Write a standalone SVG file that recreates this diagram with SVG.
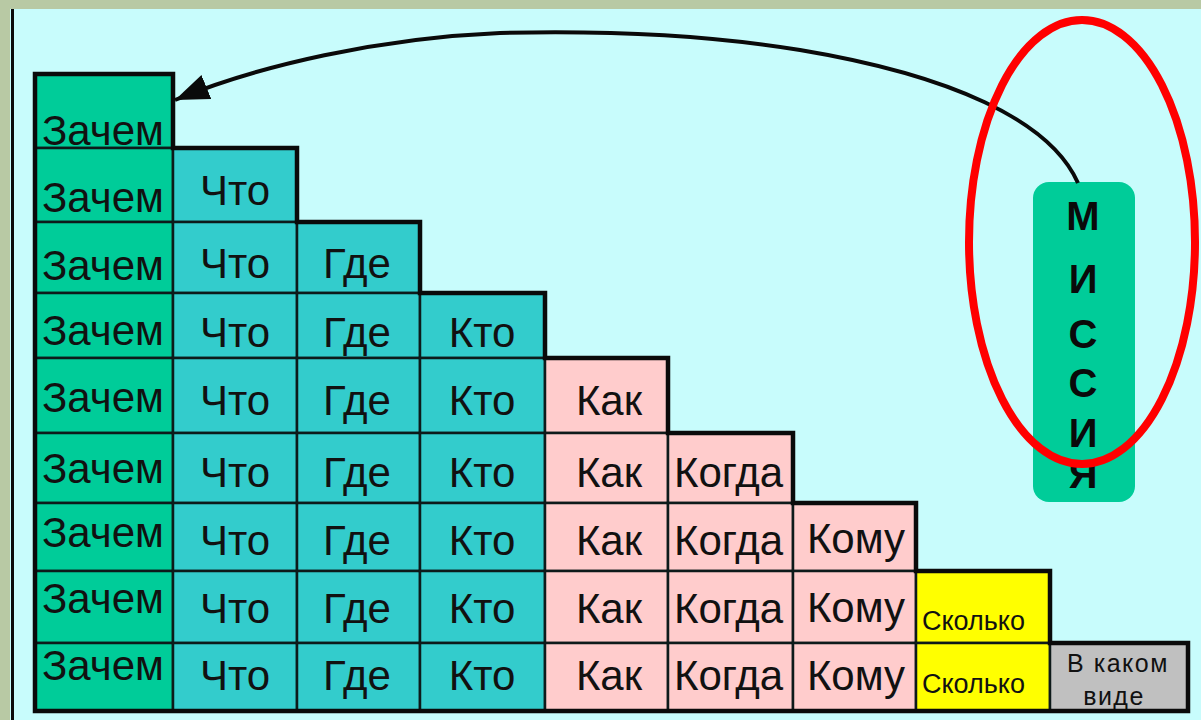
<svg xmlns="http://www.w3.org/2000/svg" width="1201" height="720" viewBox="0 0 1201 720">
<style>
.c1{fill:#00cc99}
.c2{fill:#33cccc}
.c3{fill:#ffcccc}
.c4{fill:#ffff00}
.c5{fill:#c0c0c0}
.cell rect{stroke:#0d1a1a;stroke-width:2.5}
.t{font-family:"Liberation Sans",Arial,sans-serif;font-size:42px;fill:#111}
.tm{text-anchor:middle}
.ts{font-family:"Liberation Sans",Arial,sans-serif;font-size:27px;fill:#111}
.tg{font-family:"Liberation Sans",Arial,sans-serif;font-size:25px;fill:#111;letter-spacing:1.5px;text-anchor:middle}
.m{font-family:"Liberation Sans",Arial,sans-serif;font-size:40px;font-weight:bold;fill:#0a0a0a;text-anchor:middle}
</style>
<defs>
<marker id="ah" markerUnits="userSpaceOnUse" markerWidth="34" markerHeight="26" refX="34" refY="13" orient="auto">
<path d="M0,0 L34,13 L0,26 Z" fill="#0a0a0a"/>
</marker>
</defs>
<rect x="0" y="0" width="1201" height="720" fill="#c8fcfc"/>
<rect x="0" y="0" width="1201" height="9" fill="#b8c9a4"/>
<rect x="0" y="0" width="10" height="720" fill="#b8c9a4"/>
<rect x="11" y="9" width="3" height="711" fill="#0a0a0a"/>

<g id="col1">
<g id="n1-0" class="cell"><rect class="c1" x="35" y="74" width="138" height="74"/><text class="t" x="42" y="145" text-decoration="underline">Зачем</text></g>
<g id="n1-1" class="cell"><rect class="c1" x="35" y="148" width="138" height="74"/><text class="t" x="42" y="212">Зачем</text></g>
<g id="n1-2" class="cell"><rect class="c1" x="35" y="222" width="138" height="71"/><text class="t" x="42" y="280">Зачем</text></g>
<g id="n1-3" class="cell"><rect class="c1" x="35" y="293" width="138" height="65"/><text class="t" x="42" y="345">Зачем</text></g>
<g id="n1-4" class="cell"><rect class="c1" x="35" y="358" width="138" height="75"/><text class="t" x="42" y="412">Зачем</text></g>
<g id="n1-5" class="cell"><rect class="c1" x="35" y="433" width="138" height="70"/><text class="t" x="42" y="483">Зачем</text></g>
<g id="n1-6" class="cell"><rect class="c1" x="35" y="503" width="138" height="68"/><text class="t" x="42" y="547">Зачем</text></g>
<g id="n1-7" class="cell"><rect class="c1" x="35" y="571" width="138" height="72"/><text class="t" x="42" y="613">Зачем</text></g>
<g id="n1-8" class="cell"><rect class="c1" x="35" y="643" width="138" height="68"/><text class="t" x="42" y="680">Зачем</text></g>
</g>

<g id="col2">
<g id="n2-1" class="cell"><rect class="c2" x="173" y="148" width="124" height="74"/><text class="t tm" x="235" y="205">Что</text></g>
<g id="n2-2" class="cell"><rect class="c2" x="173" y="222" width="124" height="71"/><text class="t tm" x="235" y="278">Что</text></g>
<g id="n2-3" class="cell"><rect class="c2" x="173" y="293" width="124" height="65"/><text class="t tm" x="235" y="347">Что</text></g>
<g id="n2-4" class="cell"><rect class="c2" x="173" y="358" width="124" height="75"/><text class="t tm" x="235" y="415">Что</text></g>
<g id="n2-5" class="cell"><rect class="c2" x="173" y="433" width="124" height="70"/><text class="t tm" x="235" y="487">Что</text></g>
<g id="n2-6" class="cell"><rect class="c2" x="173" y="503" width="124" height="68"/><text class="t tm" x="235" y="555">Что</text></g>
<g id="n2-7" class="cell"><rect class="c2" x="173" y="571" width="124" height="72"/><text class="t tm" x="235" y="623">Что</text></g>
<g id="n2-8" class="cell"><rect class="c2" x="173" y="643" width="124" height="68"/><text class="t tm" x="235" y="690">Что</text></g>
</g>

<g id="col3">
<g id="n3-2" class="cell"><rect class="c2" x="297" y="222" width="123" height="71"/><text class="t tm" x="357" y="278">Где</text></g>
<g id="n3-3" class="cell"><rect class="c2" x="297" y="293" width="123" height="65"/><text class="t tm" x="357" y="347">Где</text></g>
<g id="n3-4" class="cell"><rect class="c2" x="297" y="358" width="123" height="75"/><text class="t tm" x="357" y="415">Где</text></g>
<g id="n3-5" class="cell"><rect class="c2" x="297" y="433" width="123" height="70"/><text class="t tm" x="357" y="487">Где</text></g>
<g id="n3-6" class="cell"><rect class="c2" x="297" y="503" width="123" height="68"/><text class="t tm" x="357" y="555">Где</text></g>
<g id="n3-7" class="cell"><rect class="c2" x="297" y="571" width="123" height="72"/><text class="t tm" x="357" y="623">Где</text></g>
<g id="n3-8" class="cell"><rect class="c2" x="297" y="643" width="123" height="68"/><text class="t tm" x="357" y="690">Где</text></g>
</g>

<g id="col4">
<g id="n4-3" class="cell"><rect class="c2" x="420" y="293" width="125" height="65"/><text class="t tm" x="482" y="347">Кто</text></g>
<g id="n4-4" class="cell"><rect class="c2" x="420" y="358" width="125" height="75"/><text class="t tm" x="482" y="415">Кто</text></g>
<g id="n4-5" class="cell"><rect class="c2" x="420" y="433" width="125" height="70"/><text class="t tm" x="482" y="487">Кто</text></g>
<g id="n4-6" class="cell"><rect class="c2" x="420" y="503" width="125" height="68"/><text class="t tm" x="482" y="555">Кто</text></g>
<g id="n4-7" class="cell"><rect class="c2" x="420" y="571" width="125" height="72"/><text class="t tm" x="482" y="623">Кто</text></g>
<g id="n4-8" class="cell"><rect class="c2" x="420" y="643" width="125" height="68"/><text class="t tm" x="482" y="690">Кто</text></g>
</g>

<g id="col5">
<g id="n5-4" class="cell"><rect class="c3" x="545" y="358" width="123" height="75"/><text class="t tm" x="609" y="415">Как</text></g>
<g id="n5-5" class="cell"><rect class="c3" x="545" y="433" width="123" height="70"/><text class="t tm" x="609" y="487">Как</text></g>
<g id="n5-6" class="cell"><rect class="c3" x="545" y="503" width="123" height="68"/><text class="t tm" x="609" y="555">Как</text></g>
<g id="n5-7" class="cell"><rect class="c3" x="545" y="571" width="123" height="72"/><text class="t tm" x="609" y="623">Как</text></g>
<g id="n5-8" class="cell"><rect class="c3" x="545" y="643" width="123" height="68"/><text class="t tm" x="609" y="690">Как</text></g>
</g>

<g id="col6">
<g id="n6-5" class="cell"><rect class="c3" x="668" y="433" width="125" height="70"/><text class="t" x="674" y="487">Когда</text></g>
<g id="n6-6" class="cell"><rect class="c3" x="668" y="503" width="125" height="68"/><text class="t" x="674" y="555">Когда</text></g>
<g id="n6-7" class="cell"><rect class="c3" x="668" y="571" width="125" height="72"/><text class="t" x="674" y="623">Когда</text></g>
<g id="n6-8" class="cell"><rect class="c3" x="668" y="643" width="125" height="68"/><text class="t" x="674" y="690">Когда</text></g>
</g>

<g id="col7">
<g id="n7-6" class="cell"><rect class="c3" x="793" y="503" width="123" height="68"/><text class="t tm" x="856" y="553">Кому</text></g>
<g id="n7-7" class="cell"><rect class="c3" x="793" y="571" width="123" height="72"/><text class="t tm" x="856" y="622">Кому</text></g>
<g id="n7-8" class="cell"><rect class="c3" x="793" y="643" width="123" height="68"/><text class="t tm" x="856" y="690">Кому</text></g>
</g>

<g id="col8">
<g id="n8-7" class="cell"><rect class="c4" x="916" y="571" width="134" height="72"/><text class="ts" x="922" y="630">Сколько</text></g>
<g id="n8-8" class="cell"><rect class="c4" x="916" y="643" width="134" height="68"/><text class="ts" x="922" y="693">Сколько</text></g>
</g>

<g id="col9">
<g id="n9-8" class="cell"><rect class="c5" x="1050" y="643" width="138" height="68"/><text class="tg" x="1118" y="672">В каком</text><text class="tg" x="1114" y="705">виде</text></g>
</g>

<path d="M35,711 L35,74 L173,74 L173,148 L297,148 L297,222 L420,222 L420,293 L545,293 L545,358 L668,358 L668,433 L793,433 L793,503 L916,503 L916,571 L1050,571 L1050,643 L1188,643 L1188,711 Z" fill="none" stroke="#0a0a0a" stroke-width="4.5" stroke-linejoin="miter"/>

<g id="mission">
<rect x="1033" y="182" width="102" height="320" rx="16" ry="16" fill="#00cc99"/>
<text class="m" x="1083" y="230">М</text>
<text class="m" x="1083" y="293">И</text>
<text class="m" x="1083" y="348">С</text>
<text class="m" x="1083" y="397">С</text>
<text class="m" x="1083" y="447">И</text>
<text class="m" x="1083" y="488">Я</text>
</g>

<g id="connectors">
<path d="M1078,183 C1050,120 950,75 800,50 C720,37 620,30 500,33 C380,38 260,65 175,100" fill="none" stroke="#0a0a0a" stroke-width="4" marker-end="url(#ah)"/>
</g>

<ellipse id="highlight" cx="1082" cy="242" rx="113" ry="222" fill="none" stroke="#ff0000" stroke-width="8"/>
</svg>
